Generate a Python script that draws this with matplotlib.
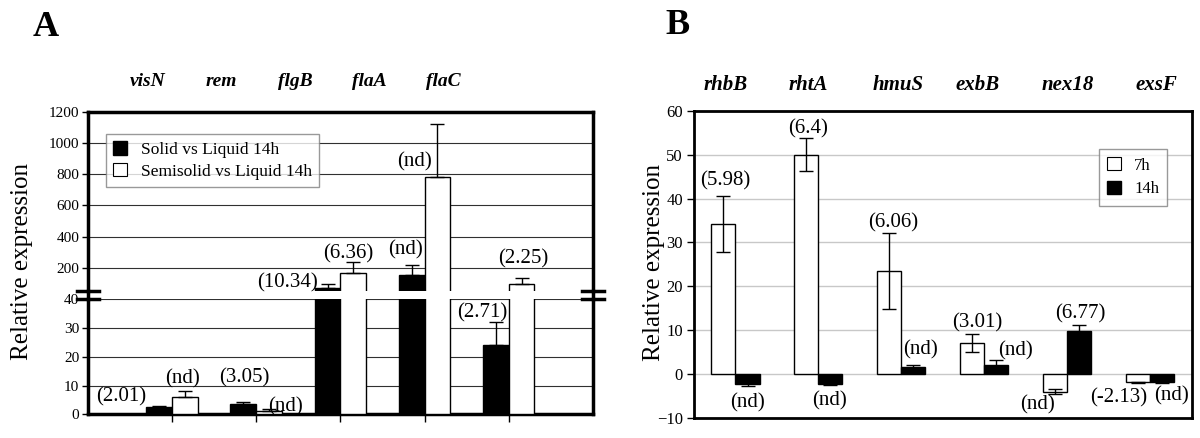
import matplotlib
import numpy as np
from matplotlib import pyplot as plt
from matplotlib.lines import Line2D

matplotlib.use("Agg")
plt.rcParams['font.family'] = ['Liberation Serif', 'DejaVu Serif']

W, H = 1200, 438

# Panel A data
GENES_A = ["visN", "rem", "flgB", "flaA", "flaC"]
solid = [2.6, 3.6, 70, 154, 24.1]
solid_err = [0.3, 0.8, 23, 63, 8.1]
semisolid = [6.0, 1.3, 163, 785, 94]
semisolid_err = [2.1, 0.4, 71, 340, 39]
solid_labels = ["(2.01)", "(3.05)", "(10.34)", "(nd)", "(2.71)"]
semisolid_labels = ["(nd)", "(nd)", "(6.36)", "(nd)", "(2.25)"]

# Panel B data
GENES_B = ["rhbB", "rhtA", "hmuS", "exbB", "nex18", "exsF"]
h7 = [34.2, 50.0, 23.5, 7.0, -4.05, -1.9]
h7_err = [6.3, 3.8, 8.7, 2.1, 0.65, 0.15]
h14 = [-2.2, -2.2, 1.5, 2.1, 9.75, -1.8]
h14_err = [0.5, 0.3, 0.5, 1.1, 1.5, 0.2]
h7_labels = ["(5.98)", "(6.4)", "(6.06)", "(3.01)", "(nd)", "(-2.13)"]
h14_labels = ["(nd)", "(nd)", "(nd)", "(nd)", "(6.77)", "(nd)"]

# label offsets in pixels from the error bar tip
solid_off = [(-38, 9), (1, 24), (-40, 1), (-6, 15), (-14, 9)]
semi_off = [(-2, 12), (17, 3), (-5, 9), (-23, -38), (2, 19)]
h7_off = [(2, 16), (2, 9), (4, 10), (5, 11), (-18, -10), (-20, -15)]
h14_off = [(0, -17), (-1, -16), (7, 15), (19, 9), (1, 11), (9, -13)]


def box(left, top, width, height):
    return [left / W, 1 - (top + height) / H, width / W, height / H]


def fig_line(fig, x0, x1, y0, y1, lw):
    fig.add_artist(Line2D([x0 / W, x1 / W], [1 - y0 / H, 1 - y1 / H],
                          color="black", lw=lw, transform=fig.transFigure))


def label_bars(ax, xs, vals, errs, labels, offs):
    for x, v, e, t, (dx, dy) in zip(xs, vals, errs, labels, offs):
        tip = v + e if v >= 0 else v - e
        ax.annotate(t, (x, tip), xytext=(dx, dy), textcoords="offset pixels",
                    ha="center", va="center", fontsize=15, annotation_clip=False)


fig = plt.figure(figsize=(12, 4.38), dpi=100)

# ---------- Panel A (broken axis) ----------
ax_top = fig.add_axes(box(87.7, 112.2, 505.3, 178.8))
ax_bot = fig.add_axes(box(87.7, 299.3, 505.3, 115))
xa = np.arange(1, len(GENES_A) + 1)
wa = 0.305

for ax in (ax_top, ax_bot):
    ax.bar(xa - wa / 2, solid, wa, color="black", edgecolor="black", lw=1, zorder=3)
    ax.bar(xa + wa / 2, semisolid, wa, color="white", edgecolor="black", lw=1, zorder=3)
    ax.errorbar(xa - wa / 2, solid, yerr=[np.zeros(len(solid)), solid_err], fmt="none",
                ecolor="black", elinewidth=1, capsize=5, capthick=1, zorder=4)
    ax.errorbar(xa + wa / 2, semisolid, yerr=[np.zeros(len(semisolid)), semisolid_err],
                fmt="none", ecolor="black", elinewidth=1, capsize=5, capthick=1, zorder=4)
    ax.set_xlim(0, 6)
    ax.yaxis.grid(True, color="#303030", lw=0.8)
    ax.set_axisbelow(True)
    for s in ax.spines.values():
        s.set_linewidth(2.5)
    ax.tick_params(axis="y", direction="out", length=4, width=1, pad=2, labelsize=11)

ax_top.set_ylim(50, 1200)
ax_top.set_yticks(np.arange(200, 1201, 200))
ax_top.spines["bottom"].set_visible(False)
ax_top.set_xticks([])

ax_bot.set_ylim(0, 40)
ax_bot.set_yticks(np.arange(0, 41, 10))
ax_bot.spines["top"].set_visible(False)
ax_bot.set_xticks(xa)
ax_bot.set_xticklabels([])
ax_bot.tick_params(axis="x", direction="out", length=6, width=1)

# labels: put each in the axes where its tip sits
for i in range(len(GENES_A)):
    for xs, vals, errs, labs, offs in ((xa - wa / 2, solid, solid_err, solid_labels, solid_off),
                                       (xa + wa / 2, semisolid, semisolid_err, semisolid_labels, semi_off)):
        ax = ax_bot if vals[i] + errs[i] <= 40 else ax_top
        label_bars(ax, [xs[i]], [vals[i]], [errs[i]], [labs[i]], [offs[i]])

# break marks and spine through the gap
for xs in (88, 593):
    fig_line(fig, xs, xs, 291, 299.3, 2.5)
    fig_line(fig, xs - 11, xs + 11, 291, 291, 2.5)
    fig_line(fig, xs - 11, xs + 11, 299.3, 299.3, 2.5)

leg_a = ax_top.legend(
    handles=[plt.Rectangle((0, 0), 1, 1, fc="black", ec="black"),
             plt.Rectangle((0, 0), 1, 1, fc="white", ec="black", lw=0.8)],
    labels=["Solid vs Liquid 14h", "Semisolid vs Liquid 14h"],
    loc="upper left", bbox_to_anchor=(106 / W, 1 - 134.3 / H), bbox_transform=fig.transFigure,
    fontsize=12.5, frameon=True, fancybox=False, borderaxespad=0, handlelength=0.8,
    handleheight=0.8, handletextpad=0.8, borderpad=0.4, labelspacing=0.3)
leg_a.get_frame().set_edgecolor("#808080")
leg_a.get_frame().set_linewidth(1)

for i, g in enumerate(GENES_A):
    ax_top.text(0.119 + 0.146 * i, 1.17, g, transform=ax_top.transAxes, ha="center", va="center",
                fontsize=14, fontweight="bold", fontstyle="italic")

fig.text(21.7 / W, 1 - 261 / H, "Relative expression", rotation=90, ha="center", va="center",
         fontsize=18)
fig.text(46 / W, 1 - 27 / H, "A", ha="center", va="center", fontsize=26, fontweight="bold")

# ---------- Panel B ----------
axb = fig.add_axes(box(694, 111, 497.7, 306.7))
xb = np.arange(1, len(GENES_B) + 1)
wb = 0.29
axb.bar(xb - wb / 2, h7, wb, color="white", edgecolor="black", lw=1, zorder=3, label="7h")
axb.bar(xb + wb / 2, h14, wb, color="black", edgecolor="black", lw=1, zorder=3, label="14h")
axb.errorbar(xb - wb / 2, h7, yerr=h7_err, fmt="none", ecolor="black", elinewidth=1,
             capsize=5, capthick=1, zorder=4)
axb.errorbar(xb + wb / 2, h14, yerr=h14_err, fmt="none", ecolor="black", elinewidth=1,
             capsize=5, capthick=1, zorder=4)
axb.set_xlim(0.5, 6.5)
axb.set_ylim(-10, 60)
axb.set_yticks(np.arange(-10, 61, 10))
axb.set_xticks([])
axb.yaxis.grid(True, color="#c8c8c8", lw=1)
axb.set_axisbelow(True)
for s in axb.spines.values():
    s.set_linewidth(2)
axb.tick_params(axis="y", direction="out", length=5, width=1, pad=3, labelsize=12)

label_bars(axb, xb - wb / 2, h7, h7_err, h7_labels, h7_off)
label_bars(axb, xb + wb / 2, h14, h14_err, h14_labels, h14_off)

leg_b = axb.legend(
    handles=[plt.Rectangle((0, 0), 1, 1, fc="white", ec="black", lw=0.8),
             plt.Rectangle((0, 0), 1, 1, fc="black", ec="black")],
    labels=["7h", "14h"],
    loc="upper left", bbox_to_anchor=(1099 / W, 1 - 149 / H), bbox_transform=fig.transFigure,
    fontsize=12, frameon=True, fancybox=False, borderaxespad=0, handlelength=0.8,
    handleheight=0.8, handletextpad=0.8, borderpad=0.5, labelspacing=0.45)
leg_b.get_frame().set_edgecolor("#808080")
leg_b.get_frame().set_linewidth(1)

gene_b_shift = [-0.12, -0.12, -0.04, -0.08, 0.0, 0.08]
for i, g in enumerate(GENES_B):
    axb.text(xb[i] + gene_b_shift[i], 60 + 26 / 4.37, g, ha="center", va="center",
             fontsize=15, fontweight="bold", fontstyle="italic")

fig.text(654 / W, 1 - 262.5 / H, "Relative expression", rotation=90, ha="center", va="center",
         fontsize=18)
fig.text(677 / W, 1 - 25 / H, "B", ha="center", va="center", fontsize=26, fontweight="bold")

fig.savefig("out.png", dpi=100)
